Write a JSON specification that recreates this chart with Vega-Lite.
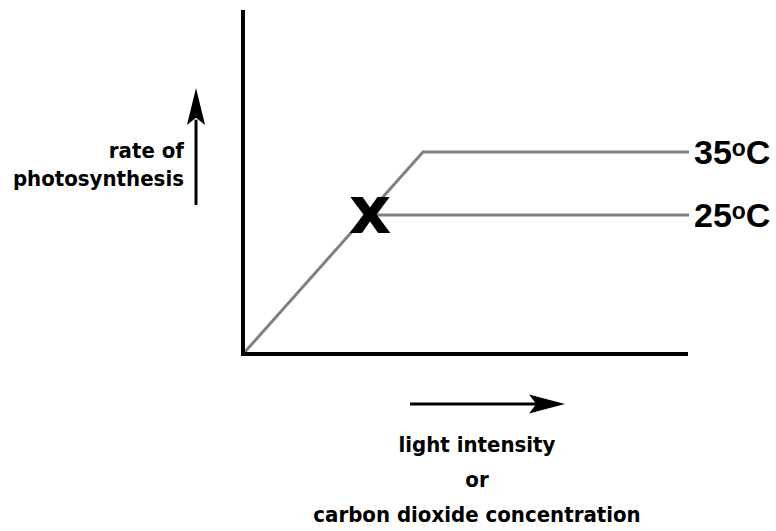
{
  "$schema": "https://vega.github.io/schema/vega-lite/v6.json",
  "width": 776,
  "height": 531,
  "autosize": {"type": "fit", "contains": "padding"},
  "padding": 0,
  "background": "white",
  "view": {"stroke": null},
  "encoding": {
    "x": {"field": "x", "type": "quantitative", "axis": null, "scale": {"domain": [-13.5, 29.611], "nice": false, "zero": false}},
    "y": {"field": "y", "type": "quantitative", "axis": null, "scale": {"domain": [-8.762, 17.525], "nice": false, "zero": false}}
  },
  "layer": [
    {
      "data": {"values": [
        {"t": "35oC", "x": 0, "y": 0},
        {"t": "35oC", "x": 10, "y": 10},
        {"t": "35oC", "x": 24.78, "y": 10},
        {"t": "25oC", "x": 7.06, "y": 6.88},
        {"t": "25oC", "x": 24.78, "y": 6.88}
      ]},
      "mark": {"type": "line", "color": "#808080", "strokeWidth": 3, "clip": false},
      "encoding": {"detail": {"field": "t"}}
    },
    {
      "data": {"values": [
        {"x": 0, "y": 0, "x2": 0, "y2": 16.93},
        {"x": 0, "y": 0, "x2": 24.61, "y2": 0}
      ]},
      "mark": {"type": "rule", "color": "black", "strokeWidth": 4, "strokeCap": "square", "clip": false},
      "encoding": {"x2": {"field": "x2"}, "y2": {"field": "y2"}}
    },
    {
      "data": {"values": [{"label": "x", "x": 7.06, "y": 6.88}]},
      "mark": {"type": "text", "font": "DejaVu Sans", "fontWeight": "bold", "fontSize": 66, "align": "center", "baseline": "alphabetic", "dy": 18, "color": "black"},
      "encoding": {"text": {"field": "label"}}
    },
    {
      "data": {"values": [
        {"label": "35ᵒC", "x": 24.78, "y": 10},
        {"label": "25ᵒC", "x": 24.78, "y": 6.88}
      ]},
      "mark": {"type": "text", "font": "Liberation Sans", "fontWeight": "bold", "fontSize": 34, "align": "left", "baseline": "alphabetic", "dx": 5, "dy": 12, "color": "black"},
      "encoding": {"text": {"field": "label"}}
    },
    {
      "data": {"values": [
        {"label": "rate of", "x": -3.28, "y": 9.70},
        {"label": "photosynthesis", "x": -3.28, "y": 8.32}
      ]},
      "mark": {"type": "text", "font": "DejaVu Sans Condensed, Roboto, sans-serif", "fontWeight": "bold", "fontSize": 22, "align": "right", "baseline": "alphabetic", "color": "black"},
      "encoding": {"text": {"field": "label"}}
    },
    {
      "data": {"values": [
        {"label": "light intensity", "x": 13.0, "y": -4.85},
        {"label": "or", "x": 13.0, "y": -6.58},
        {"label": "carbon dioxide concentration", "x": 13.0, "y": -8.32}
      ]},
      "mark": {"type": "text", "font": "DejaVu Sans Condensed, Roboto, sans-serif", "fontWeight": "bold", "fontSize": 22, "align": "center", "baseline": "alphabetic", "color": "black"},
      "encoding": {"text": {"field": "label"}}
    },
    {
      "data": {"values": [
        {"x": -2.61, "y": 7.38, "x2": -2.61, "y2": 11.6},
        {"x": 9.28, "y": -2.475, "x2": 16.4, "y2": -2.475}
      ]},
      "mark": {"type": "rule", "color": "black", "strokeWidth": 3, "clip": false},
      "encoding": {"x2": {"field": "x2"}, "y2": {"field": "y2"}}
    },
    {
      "data": {"values": [{"x": -2.61, "y": 12.25}]},
      "mark": {"type": "point", "shape": "M0,-1L0.49,1L0,0.6L-0.49,1Z", "filled": true, "color": "black", "opacity": 1, "size": 1369, "strokeWidth": 0}
    },
    {
      "data": {"values": [{"x": 16.89, "y": -2.475}]},
      "mark": {"type": "point", "shape": "M0,-1L0.53,1L0,0.6L-0.53,1Z", "filled": true, "color": "black", "opacity": 1, "size": 1296, "angle": 90, "strokeWidth": 0}
    }
  ]
}
